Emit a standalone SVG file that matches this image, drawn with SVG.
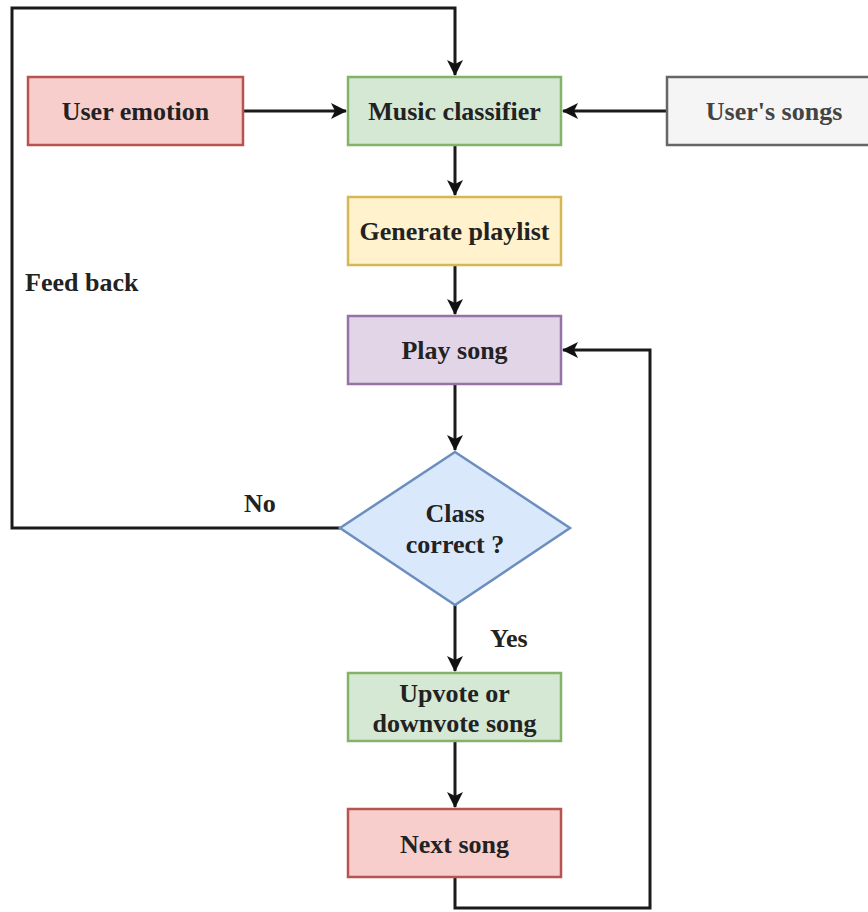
<svg xmlns="http://www.w3.org/2000/svg" width="868" height="912" viewBox="0 0 868 912">
<defs>
<marker id="ah" markerWidth="16" markerHeight="16" refX="15" refY="8" orient="auto" markerUnits="userSpaceOnUse" viewBox="0 0 16 16">
<path d="M0,0 L16,8 L0,16 L4,8 Z" fill="#111"/>
</marker>
<style>
.t{font-weight:bold;font-size:26px;fill:#222;text-anchor:middle}
.l{font-weight:bold;font-size:26px;fill:#222}
.c{fill:none;stroke:#1a1a1a;stroke-width:3}
.n{stroke-width:2.5}
</style>
</defs>
<rect width="868" height="912" fill="#fff"/>
<g id="connectors">
<path class="c" d="M340,528 H12 V8 H455 V75" marker-end="url(#ah)"/>
<path class="c" d="M243,111 H346" marker-end="url(#ah)"/>
<path class="c" d="M667,111 H563" marker-end="url(#ah)"/>
<path class="c" d="M455,145 V195" marker-end="url(#ah)"/>
<path class="c" d="M455,265 V314" marker-end="url(#ah)"/>
<path class="c" d="M455,384 V450" marker-end="url(#ah)"/>
<path class="c" d="M455,605 V671" marker-end="url(#ah)"/>
<path class="c" d="M455,741 V807" marker-end="url(#ah)"/>
<path class="c" d="M455,877 V908 H650 V350 H563" marker-end="url(#ah)"/>
</g>
<g font-family="Liberation Serif, DejaVu Serif, serif">
<g id="labels">
<text class="l" x="25" y="291">Feed back</text>
<text class="l" x="244" y="512">No</text>
<text class="l" x="490" y="647">Yes</text>
</g>
<g id="user-emotion">
<rect class="n" x="28" y="77" width="215" height="68" fill="#f8cecc" stroke="#b85450"/>
<text class="t" x="135.5" y="120">User emotion</text>
</g>
<g id="music-classifier">
<rect class="n" x="348" y="77" width="213" height="68" fill="#d5e8d4" stroke="#82b366"/>
<text class="t" x="454.5" y="120">Music classifier</text>
</g>
<g id="users-songs">
<rect class="n" x="667" y="77" width="215" height="68" fill="#f5f5f5" stroke="#666"/>
<text class="t" x="774" y="120" style="fill:#444">User's songs</text>
</g>
<g id="generate-playlist">
<rect class="n" x="348" y="197" width="213" height="68" fill="#fff2cc" stroke="#d6b656"/>
<text class="t" x="454.5" y="240">Generate playlist</text>
</g>
<g id="play-song">
<rect class="n" x="348" y="316" width="213" height="68" fill="#e1d5e7" stroke="#9673a6"/>
<text class="t" x="454.5" y="359">Play song</text>
</g>
<g id="class-correct">
<polygon class="n" points="455,452 570,528 455,605 340,528" fill="#dae8fc" stroke="#6c8ebf"/>
<text class="t" x="455" y="522">Class</text>
<text class="t" x="455" y="553">correct ?</text>
</g>
<g id="upvote">
<rect class="n" x="348" y="673" width="213" height="68" fill="#d5e8d4" stroke="#82b366"/>
<text class="t" x="454.5" y="702">Upvote or</text>
<text class="t" x="454.5" y="732">downvote song</text>
</g>
<g id="next-song">
<rect class="n" x="348" y="809" width="213" height="68" fill="#f8cecc" stroke="#b85450"/>
<text class="t" x="454.5" y="853">Next song</text>
</g>
</g>
</svg>
